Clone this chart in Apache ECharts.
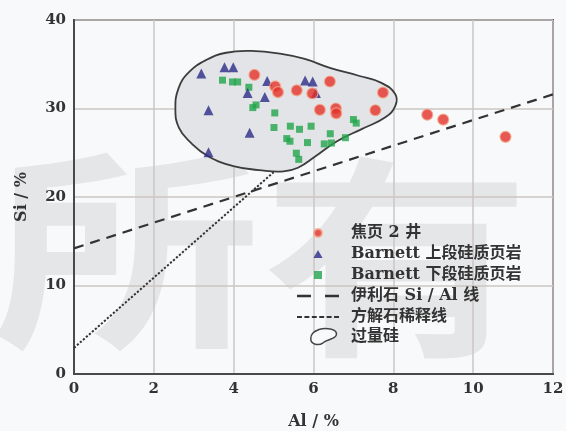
<!DOCTYPE html>
<html><head><meta charset="utf-8">
<script src="https://cdn.jsdelivr.net/npm/echarts@6/dist/echarts.min.js"></script>
<style>html,body{margin:0;padding:0;background:#f8f9fb}#c{width:566px;height:431px}</style>
</head><body><div id="c"></div>
<script>
// Al (%) , Si (%)
const jiaoye2 = [[4.52,33.8],[5.04,32.5],[5.11,31.85],[5.58,32.05],[5.97,31.7],[6.41,33.05],[6.16,29.85],[6.56,30.0],[6.57,29.45],[7.55,29.8],[7.74,31.8],[8.85,29.3],[9.25,28.75],[10.81,26.8]];
const barnettUpper = [[3.19,33.95],[3.77,34.65],[3.99,34.65],[4.84,33.1],[4.35,31.75],[4.78,31.3],[5.79,33.15],[5.98,33.05],[6.06,31.75],[3.37,29.8],[4.4,27.25],[3.37,25.05]];
const barnettLower = [[3.72,33.2],[3.97,33.0],[4.1,33.0],[4.38,32.4],[4.48,30.1],[4.56,30.4],[5.03,29.5],[5.01,27.85],[5.42,28.0],[5.65,27.65],[5.94,28.0],[5.33,26.6],[5.41,26.3],[5.85,26.15],[6.27,26.0],[6.45,26.1],[6.42,27.15],[6.8,26.7],[7.0,28.75],[7.07,28.35],[5.57,24.95],[5.63,24.25]];
const illiteLine = [[0,14.2],[12,31.6]];
const calciteLine = [[0,2.95],[5.0,22.8]];
const excessSiOutline = [[2.54,29.9],[2.62,32.3],[2.88,34.1],[3.32,35.5],[3.81,36.3],[4.44,36.5],[5.16,36.2],[5.78,35.6],[6.41,34.6],[7.13,33.7],[7.7,32.9],[8.05,31.6],[8.05,30.3],[7.8,29.0],[7.22,27.7],[6.59,26.3],[6.05,24.6],[5.61,23.3],[5.25,22.9],[4.71,23.0],[3.99,23.5],[3.36,24.6],[2.91,26.2],[2.63,27.8]];
const seriesNames = ['焦页 2 井','Barnett 上段硅质页岩','Barnett 下段硅质页岩','伊利石 Si / Al 线','方解石稀释线','过量硅'];
const xRange = [0,12,2];
const yRange = [0,40,10];
const axisTitles = ['Al / %','Si / %'];
const watermarkChars = ['所','有'];

const FONT = '"DejaVu Serif","Noto Sans CJK SC",serif';
const chart = echarts.init(document.getElementById('c'), null, {renderer:'canvas'});
const axisCommon = {
  axisLine:{show:true, lineStyle:{color:'#4a4a4a', width:2}},
  axisTick:{show:false},
  splitLine:{show:true, lineStyle:{color:'#cdc6c2', width:1.5}},
  axisLabel:{color:'#333', fontSize:15, fontWeight:'bold', fontFamily:FONT, margin:8},
  nameTextStyle:{color:'#333', fontSize:16, fontWeight:'bold', fontFamily:FONT}
};
const legendText = {color:'#333', fontSize:16, fontWeight:'bold', fontFamily:FONT, lineHeight:21};
const triIcon = 'path://M4,0L8,7H0Z';
const sqIcon = 'path://M0,0H7V7H0Z';
const dashIcon = 'path://M0,0H13V2.2H0Z M26,0H39V2.2H26Z';
const dotIcon = 'path://M0,0H5V1.8H0Z M7.5,0H12.5V1.8H7.5Z M15,0H20V1.8H15Z M22.5,0H27.5V1.8H22.5Z M30,0H35V1.8H30Z M37.5,0H42.5V1.8H37.5Z';
const blobIcon = 'path://M9,1 C15,-1 27,0 26,6 C25,11 17,10 13,14 C9,17 1,16 1,10 C1,5 4,3 9,1 Z';
chart.setOption({
  backgroundColor:'#f8f9fb',
  animation:false,
  graphic:[
    {type:'text', x:-8, y:142, scaleX:1.25, z:-10, silent:true,
     style:{text:watermarkChars[0], font:'bold 215px "Noto Sans CJK SC"', fill:'rgba(40,40,40,0.085)'}},
    {type:'text', x:262, y:150, scaleX:1.25, z:-10, silent:true,
     style:{text:watermarkChars[1], font:'bold 215px "Noto Sans CJK SC"', fill:'rgba(40,40,40,0.085)'}}
  ],
  grid:{left:74, right:13, top:20, bottom:57, show:true, borderColor:'#4a4a4a', borderWidth:2, backgroundColor:'transparent', outerBoundsMode:'none', containLabel:false},
  xAxis:Object.assign({type:'value', min:xRange[0], max:xRange[1], interval:xRange[2], name:axisTitles[0], nameLocation:'middle', nameGap:40}, axisCommon),
  yAxis:Object.assign({type:'value', min:yRange[0], max:yRange[1], interval:yRange[2], name:axisTitles[1], nameLocation:'middle', nameGap:44, nameRotate:90}, axisCommon),
  legend:[{
    orient:'vertical', left:292, top:217.5, itemWidth:42, itemHeight:8, itemGap:0,
    data:[
      {name:seriesNames[0]},
      {name:seriesNames[1], icon:triIcon},
      {name:seriesNames[2], icon:sqIcon},
      {name:seriesNames[3], icon:dashIcon},
      {name:seriesNames[4], icon:dotIcon}
    ],
    textStyle:Object.assign({padding:[0,0,0,7]}, legendText)
  },{
    orient:'vertical', left:305, top:321, itemWidth:27, itemHeight:16, itemGap:0,
    data:[{name:seriesNames[5], icon:blobIcon, itemStyle:{color:'#f8f9fb', borderColor:'#444', borderWidth:1.5}}],
    textStyle:Object.assign({padding:[0,0,0,9]}, legendText)
  }],
  series:[
    {name:seriesNames[5], type:'custom', z:1, data:excessSiOutline, itemStyle:{color:'#e2e3e6'},
     renderItem:function(params, api){
       if (params.dataIndex !== 0) return null;
       const pts = excessSiOutline.map(p => api.coord(p));
       return {type:'polygon', shape:{points:pts, smooth:0.45}, style:{fill:'#e3e4e7', stroke:'#3c3c3c', lineWidth:1.8}};
     }},
    {name:seriesNames[3], type:'line', z:2, data:illiteLine, symbol:'none', lineStyle:{color:'#333', width:2.2, type:[10,7]}, itemStyle:{color:'#333'}},
    {name:seriesNames[4], type:'line', z:2, data:calciteLine, symbol:'none', lineStyle:{color:'#333', width:2, type:[2.2,1.8]}, itemStyle:{color:'#333'}},
    {name:seriesNames[2], type:'scatter', z:3, data:barnettLower, symbol:'rect', symbolSize:7, itemStyle:{color:'#20a54b'}},
    {name:seriesNames[1], type:'scatter', z:3, data:barnettUpper, symbol:'triangle', symbolSize:10, itemStyle:{color:'#2c2a88'}},
    {name:seriesNames[0], type:'scatter', z:4, data:jiaoye2, symbol:'circle', symbolSize:11, itemStyle:{color:'#e4312b', borderColor:'#f4a98c', borderWidth:1.2}}
  ]
});
</script></body></html>
